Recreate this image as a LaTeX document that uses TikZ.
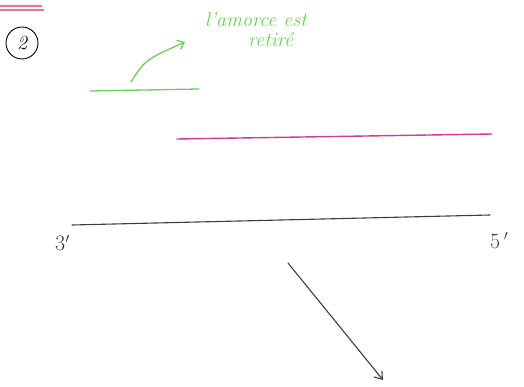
\documentclass[tikz,border=0pt]{standalone}
\usepackage{fontspec}
\usetikzlibrary{arrows.meta}
\definecolor{hgreen}{RGB}{110,205,90}
\definecolor{hpink}{RGB}{205,60,150}
\definecolor{hred}{RGB}{225,120,140}
\definecolor{hgray}{RGB}{60,60,60}
\tikzset{
  greenline/.style={draw=hgreen, line width=1.3pt, line cap=round},
  pinkline/.style={draw=hpink, line width=1.4pt, line cap=round},
  blackline/.style={draw=hgray, line width=1.1pt, line cap=round},
  hand/.style={font=\fontsize{20}{24}\selectfont\itshape, inner sep=0pt, text=hgreen, anchor=base west},
  endlabel/.style={font=\fontsize{22}{26}\selectfont, anchor=base west, inner sep=0pt, text=hgray},
}
\begin{document}
\begin{tikzpicture}[x=1pt,y=-1pt]
\useasboundingbox (0,0) rectangle (524,387);
% pink double underline top-left
\draw[draw=hred, line width=1.1pt] (0,6) -- (42,6);
\draw[draw=hred, line width=1.1pt] (0,10) -- (44,10);
% circled 2
\node[draw=black, circle, line width=0.9pt, minimum size=32pt, inner sep=0pt, font=\fontsize{20}{24}\selectfont\itshape] (num) at (22,43) {2};
% green primer
\coordinate (g1) at (90,91);
\coordinate (g2) at (199,89);
\draw[greenline] (g1) -- (g2);
\coordinate (a1) at (131,82);
\coordinate (a2) at (185,42);
\draw[greenline, -{Straight Barb[length=6pt,width=10pt]}] (a1) .. controls (145,60) .. (a2);
\node[hand] (t1) at (205,27) {l'amorce est};
\node[hand] (t2) at (248,47) {retiré};
% magenta strand
\coordinate (m1) at (177,139);
\coordinate (m2) at (492,134);
\draw[pinkline] (m1) -- (m2);
% black template strand
\coordinate (b1) at (72,225);
\coordinate (b2) at (490,215);
\draw[blackline] (b1) -- (b2);
\node[endlabel] (l3) at (55,251) {3$'$};
\node[endlabel] (l5) at (490,248) {5\,$'$};
% arrow
\coordinate (r1) at (288,263);
\coordinate (r2) at (383,380);
\draw[blackline, -{Straight Barb[length=7pt,width=10pt]}] (r1) -- (r2);
\end{tikzpicture}
\end{document}
